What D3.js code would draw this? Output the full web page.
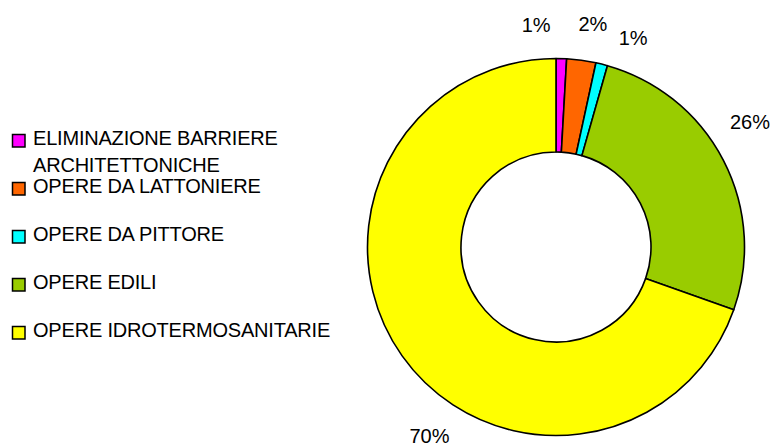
<!DOCTYPE html>
<html>
<head>
<meta charset="utf-8">
<script src="https://cdn.jsdelivr.net/npm/d3@7"></script>
<style>
  body { margin: 0; background: #fff; }
  svg { display: block; }
  text { font-family: "Liberation Sans", Arial, sans-serif; fill: #000; }
</style>
</head>
<body>
<div id="chart"></div>
<script>
// categories and their share of the total (percent)
const categories = [
  "ELIMINAZIONE BARRIERE ARCHITETTONICHE",
  "OPERE DA LATTONIERE",
  "OPERE DA PITTORE",
  "OPERE EDILI",
  "OPERE IDROTERMOSANITARIE"
];
const values = [0.9, 2.5, 1.0, 26.0, 69.6];
const labels = ["1%", "2%", "1%", "26%", "70%"];
const colors = ["#ff00ff", "#ff6600", "#00ffff", "#99cc00", "#ffff00"];

// where the labels were dragged to, relative to the spot at the label radius
const labelNudge = [[-26, -7], [8, -10], [25, -1], [3, -26], [49, 65]];

const width = 774,
  height = 447;
const cx = 556,
  cy = 247,
  outerR = 188.5,
  innerR = 95,
  labelR = 215;

const svg = d3
  .select("#chart")
  .append("svg")
  .attr("width", width)
  .attr("height", height);

svg.append("rect").attr("width", width).attr("height", height).attr("fill", "#fff");

const data = categories.map((c, i) => ({ name: c, value: values[i], label: labels[i], color: colors[i] }));

const pie = d3.pie().sort(null).value((d) => d.value);
const arcs = pie(data);

const arc = d3.arc().innerRadius(innerR).outerRadius(outerR);
const labelArc = d3.arc().innerRadius(labelR).outerRadius(labelR);

const g = svg.append("g").attr("transform", "translate(" + cx + "," + cy + ")");

g.selectAll("path.slice")
  .data(arcs)
  .enter()
  .append("path")
  .attr("class", "slice")
  .attr("d", arc)
  .attr("fill", (d) => d.data.color)
  .attr("stroke", "#000")
  .attr("stroke-width", 1.6)
  .attr("stroke-linejoin", "round");

// percentage labels
g.selectAll("text.pct")
  .data(arcs)
  .enter()
  .append("text")
  .attr("class", "pct")
  .attr("x", (d, i) => labelArc.centroid(d)[0] + labelNudge[i][0])
  .attr("y", (d, i) => labelArc.centroid(d)[1] + labelNudge[i][1])
  .attr("dy", "0.36em")
  .attr("text-anchor", "middle")
  .style("font-size", "20px")
  .text((d) => d.data.label);

// legend
const legend = svg.append("g").attr("transform", "translate(12,145)");
const rowH = 48;

const item = legend
  .selectAll("g.item")
  .data(data)
  .enter()
  .append("g")
  .attr("class", "item")
  .attr("transform", (d, i) => "translate(0," + i * rowH + ")");

item
  .append("rect")
  .attr("x", 0.5)
  .attr("y", -10.5)
  .attr("width", 12.5)
  .attr("height", 12.5)
  .attr("fill", (d) => d.color)
  .attr("stroke", "#000")
  .attr("stroke-width", 1.5);

// long names wrap onto a second line
item.each(function (d) {
  const words = d.name.split(" ");
  const lines = d.name.length > 26 ? [words.slice(0, 2).join(" "), words.slice(2).join(" ")] : [d.name];
  const t = d3
    .select(this)
    .append("text")
    .attr("x", 21)
    .attr("y", 0)
    .style("font-size", "20px")
    .style("letter-spacing", "-0.2px");
  lines.forEach((l, j) => {
    t.append("tspan").attr("x", 21).attr("dy", j === 0 ? 0 : 27).text(l);
  });
});
</script>
</body>
</html>
